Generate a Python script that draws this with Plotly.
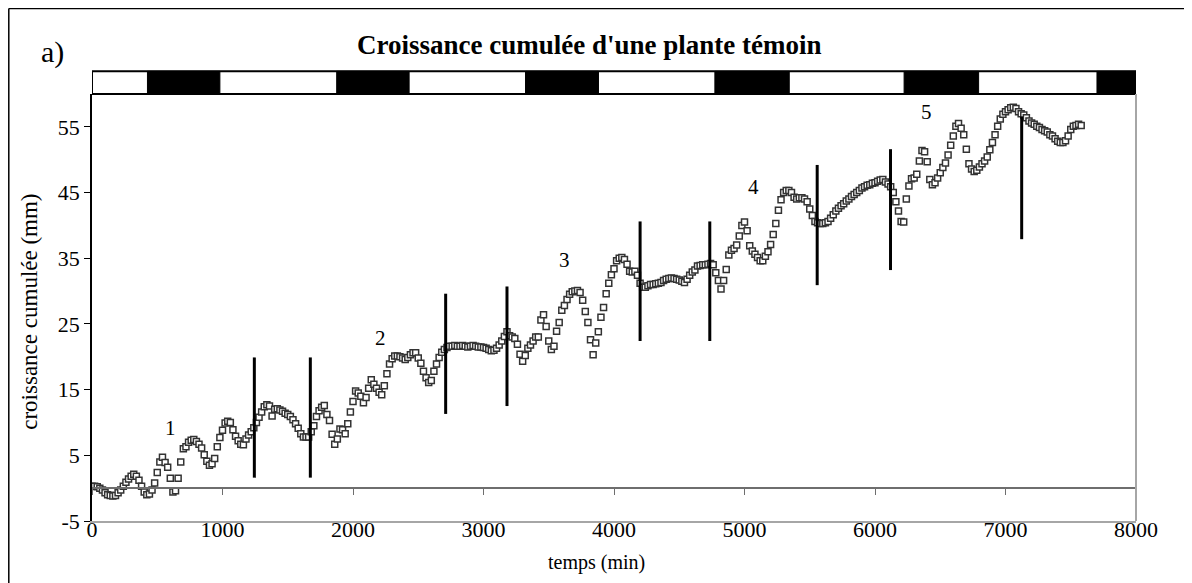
import plotly.graph_objects as go

# ---------------- data ----------------
t_step = 20  # minutes between measurements
growth_mm = [
    0.3, 0.3, 0.2, 0.0, -0.3, -0.7, -1.0, -1.1, -1.2, -1.1,
    -0.7, -0.3, 0.3, 0.9, 1.4, 1.8, 2.1, 1.8, 1.2, 0.3,
    -0.6, -1.0, -0.9, -0.3, 0.8, 2.4, 4.0, 4.7, 3.9, 3.2,
    1.5, -0.6, -0.4, 1.5, 4.0, 6.0, 6.3, 7.0, 7.3, 7.4,
    7.1, 6.7, 6.1, 5.1, 4.1, 3.5, 3.7, 4.5, 6.3, 7.7,
    8.8, 9.9, 10.2, 10.0, 8.9, 7.9, 7.2, 6.7, 6.6, 7.5,
    8.1, 8.6, 9.2, 10.0, 10.8, 11.6, 12.4, 12.7, 12.5, 11.0,
    12.0, 12.1, 11.9, 11.7, 11.4, 11.2, 10.9, 10.4, 9.8, 9.1,
    8.3, 7.8, 7.8, 7.8, 8.6, 9.5, 10.9, 11.8, 12.3, 12.6,
    11.2, 10.3, 8.2, 6.7, 7.5, 9.0, 8.9, 8.3, 9.8, 11.6,
    13.2, 14.8, 14.5, 14.0, 13.0, 13.8, 15.2, 16.5, 15.8, 15.2,
    14.6, 14.2, 15.6, 17.4, 18.9, 19.7, 20.1, 20.1, 20.0, 19.8,
    19.6, 19.9, 20.3, 20.6, 20.6, 19.8, 19.0, 17.8, 16.8, 16.1,
    16.4, 17.8, 18.9, 19.9, 20.7, 21.1, 21.4, 21.6, 21.6, 21.7,
    21.6, 21.6, 21.7, 21.6, 21.5, 21.6, 21.7, 21.6, 21.5, 21.5,
    21.4, 21.3, 21.1, 20.9, 21.0, 21.3, 21.8, 22.4, 23.1, 23.8,
    23.2, 23.0, 22.8, 21.9, 20.4, 19.3, 20.2, 21.3, 21.8, 22.4,
    23.0, 23.0, 25.6, 26.4, 24.6, 22.4, 21.1, 21.6, 23.9, 25.2,
    27.1, 27.8, 28.7, 29.5, 29.9, 30.0, 30.1, 29.8, 28.6, 26.9,
    25.2, 22.6, 20.3, 22.1, 23.8, 26.0, 27.5, 29.6, 31.2, 32.5,
    33.4, 34.6, 35.0, 35.1, 34.8, 34.1, 33.0, 32.9, 33.0, 32.4,
    31.2, 30.6, 30.6, 30.8, 31.0, 31.0, 31.1, 31.2, 31.3, 31.6,
    31.8, 31.9, 32.0, 31.9, 31.8, 31.7, 31.5, 31.3, 31.8, 32.4,
    32.9, 33.2, 33.8, 33.9, 34.0, 34.0, 34.1, 34.2, 34.0, 32.8,
    31.6, 30.3, 31.6, 33.3, 35.5, 36.2, 36.5, 37.0, 38.4, 40.0,
    40.5, 39.2, 36.9, 36.1, 35.6, 35.1, 34.6, 34.6, 35.3, 36.0,
    37.1, 38.6, 40.3, 42.3, 43.9, 45.0, 45.3, 45.3, 45.0, 44.3,
    44.0, 44.2, 44.2, 44.0, 43.6, 42.5, 41.5, 40.6, 40.4, 40.3,
    40.3, 40.4, 40.6, 41.1, 41.6, 42.2, 42.6, 43.0, 43.3, 43.7,
    44.0, 44.4, 44.7, 45.0, 45.3, 45.7, 45.9, 46.1, 46.2, 46.4,
    46.5, 46.7, 46.9, 47.0, 46.6, 46.3, 45.9, 45.0, 43.6, 42.2,
    40.6, 40.5, 44.0, 46.0, 47.1, 47.2, 47.8, 49.8, 51.4, 51.2,
    49.7, 47.0, 46.2, 46.5, 47.2, 48.0, 48.8, 49.5, 50.7, 52.2,
    53.6, 55.1, 55.5, 54.8, 53.8, 51.6, 49.4, 48.6, 48.2, 48.4,
    48.9, 49.4, 49.8, 50.4, 51.5, 52.6, 53.8, 55.1, 56.2, 56.9,
    57.3, 57.6, 57.9, 58.0, 57.8, 57.3, 57.0, 56.8, 56.4, 55.9,
    55.6, 55.4, 55.1, 54.9, 54.6, 54.4, 54.2, 53.8, 53.6, 53.2,
    52.8, 52.6, 52.6, 52.9, 53.6, 54.6, 55.1, 55.2, 55.4, 55.2,
]
time_min = [i * t_step for i in range(len(growth_mm))]

# night periods (min) for the light/dark bar
night_start = [425, 1875, 3322, 4773, 6223, 7701]
night_end = [980, 2430, 3881, 5343, 6794, 8000]

# vertical marker lines: time, lower and upper value
vline_t = [1244, 1673, 2710, 3180, 4200, 4734, 5557, 6119, 7124]
vline_lo = [1.6, 1.6, 11.3, 12.5, 22.4, 22.4, 30.9, 33.2, 37.9]
vline_hi = [19.9, 19.9, 29.6, 30.7, 40.6, 40.6, 49.2, 51.6, 56.6]

# numbered labels
label_text = ["1", "2", "3", "4", "5"]
label_t = [602, 2212, 3622, 5071, 6397]
label_v = [9.2, 22.8, 34.8, 45.9, 57.2]

x_tick_vals = [0, 1000, 2000, 3000, 4000, 5000, 6000, 7000, 8000]
x_tick_text = ["0", "1000", "2000", "3000", "4000", "5000", "6000", "7000", "8000"]
y_tick_vals = [-5, 5, 15, 25, 35, 45, 55]
y_tick_text = ["-5", "5", "15", "25", "35", "45", "55"]

title_text = "Croissance cumulée d'une plante témoin"
x_title = "temps (min)"
y_title = "croissance cumulée (mm)"
panel_label = "a)"

FONT = "Liberation Serif"

# ---------------- figure ----------------
fig = go.Figure()
fig.add_trace(go.Scatter(
    x=time_min, y=growth_mm, mode="markers",
    marker=dict(symbol="square", size=6, color="white",
                line=dict(color="#333333", width=1.5)),
    showlegend=False, hoverinfo="x+y",
))
# invisible trace so the zero-crossing axis is drawn
fig.add_trace(go.Scatter(x=[None], y=[None], xaxis="x2", showlegend=False))

shapes = []
# light/dark bar above the plot
shapes.append(dict(type="rect", xref="x", yref="paper", x0=0, x1=8000,
                   y0=1.0, y1=1.053, fillcolor="white",
                   line=dict(color="black", width=2), layer="above"))
for s, e in zip(night_start, night_end):
    shapes.append(dict(type="rect", xref="x", yref="paper", x0=s, x1=e,
                       y0=1.0, y1=1.053, fillcolor="black",
                       line=dict(color="black", width=1), layer="above"))
# vertical segments
for t, lo, hi in zip(vline_t, vline_lo, vline_hi):
    shapes.append(dict(type="line", xref="x", yref="y", x0=t, x1=t,
                       y0=lo, y1=hi, line=dict(color="black", width=3),
                       layer="above"))
# right border of plot area
shapes.append(dict(type="line", xref="paper", yref="paper", x0=1, x1=1,
                   y0=0, y1=1, line=dict(color="#a6a6a6", width=2)))
# outer frame: only the top and left edges are inside the picture
shapes.append(dict(type="line", xref="paper", yref="paper", x0=-0.0797,
                   x1=1.3, y0=1.2002, y1=1.2002,
                   line=dict(color="black", width=1.5)))
shapes.append(dict(type="line", xref="paper", yref="paper", x0=-0.0797,
                   x1=-0.0797, y0=-0.5, y1=1.2002,
                   line=dict(color="black", width=1.5)))

annotations = [
    dict(text="<b>" + title_text + "</b>", xref="paper", yref="paper",
         x=0.477, y=1.115, showarrow=False, font=dict(size=27, family=FONT, color="black"),
         xanchor="center", yanchor="middle"),
    dict(text=panel_label, xref="paper", yref="paper", x=-0.0383, y=1.098,
         showarrow=False, font=dict(size=30, family=FONT, color="black"),
         xanchor="center", yanchor="middle"),
    dict(text=x_title, xref="paper", yref="paper", x=0.4837, y=-0.098,
         showarrow=False, font=dict(size=20, family=FONT, color="black"),
         xanchor="center", yanchor="middle"),
    dict(text=y_title, xref="paper", yref="paper", x=-0.0594, y=0.49,
         showarrow=False, textangle=-90, font=dict(size=23, family=FONT, color="black"),
         xanchor="center", yanchor="middle"),
]
for txt, t, v in zip(label_text, label_t, label_v):
    annotations.append(dict(text=txt, x=t, y=v, xref="x", yref="y",
                            showarrow=False, font=dict(size=21, family=FONT, color="black"),
                            xanchor="center", yanchor="middle"))

# page body has an 8px margin, so the figure is offset by 8px
fig.update_layout(
    width=1184, height=575,
    margin=dict(l=84, r=56, t=86, b=62),
    paper_bgcolor="white", plot_bgcolor="white",
    font=dict(family=FONT, size=22, color="black"),
    showlegend=False,
    xaxis=dict(range=[0, 8000], tickvals=x_tick_vals, ticktext=x_tick_text,
               ticks="", showgrid=False, zeroline=False,
               showline=True, linecolor="#a6a6a6", linewidth=2,
               ticklabelstandoff=-12, tickfont=dict(size=22, family=FONT)),
    xaxis2=dict(range=[0, 8000], overlaying="x", anchor="free",
                position=5 / 65, side="bottom", tickvals=x_tick_vals,
                showticklabels=False, ticks="outside", ticklen=6,
                tickcolor="#6e6e6e", tickwidth=1, showline=True,
                linecolor="#6e6e6e", linewidth=2, showgrid=False,
                zeroline=False),
    yaxis=dict(range=[-5, 60], tickvals=y_tick_vals, ticktext=y_tick_text,
               ticks="outside", ticklen=6, tickcolor="black", tickwidth=1,
               showline=True, linecolor="black", linewidth=1.5,
               showgrid=False, zeroline=False, automargin=False,
               tickfont=dict(size=22, family=FONT)),
    shapes=shapes,
    annotations=annotations,
)

fig.write_html("out.html")
